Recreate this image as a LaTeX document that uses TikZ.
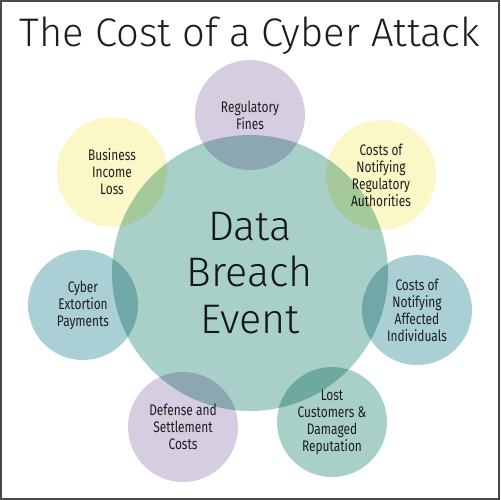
\documentclass[tikz,border=0pt]{standalone}
\usepackage{fontspec}
\setmainfont{Fira Sans}
\newfontfamily\titlefont{Fira Sans Light}
\newfontfamily\labelfont[FakeStretch=0.78]{Fira Sans}
\usepackage{tikz}
\usetikzlibrary{positioning}
\definecolor{lavender}{HTML}{D6CDE1}
\definecolor{butter}{HTML}{FCF7C6}
\definecolor{mist}{HTML}{AACFD4}
\definecolor{sage}{HTML}{A8D0C8}
\definecolor{hubfill}{HTML}{A8D0C9}
\definecolor{ink}{HTML}{1E1E1E}
\definecolor{frame}{HTML}{4A4A4A}

\begin{document}
\begin{tikzpicture}[x=0.02cm, y=-0.02cm,
        every node/.style={font=\labelfont\fontsize{8.7}{9.7}\selectfont,
          text=ink, align=center},
        bubble/.style={circle, minimum size=2.2cm, inner sep=0pt},
        hub/.style={circle, minimum size=5.52cm, inner sep=0pt,
          font=\titlefont\fontsize{23.5}{26.5}\selectfont}]
      \fill[white] (0,0) rectangle (500,500);
      \draw[frame, line width=0.9pt] (0.8,0.8) rectangle (499.2,499.2);
      \node[font=\titlefont\fontsize{22.7}{26}\selectfont] (title) at (250,36)
        {The Cost of a Cyber Attack};
      % outer ring
      \node[bubble, fill=lavender] (fines) at (250,115) {Regulatory\\Fines};
      \node[bubble, fill=butter] (authorities) at (381,175)
        {Costs of\\Notifying\\Regulatory\\Authorities};
      \node[bubble, fill=mist] (affected) at (417,310)
        {Costs of\\Notifying\\Affected\\Individuals};
      \node[bubble, fill=sage] (customers) at (332,422)
        {Lost\\Customers \&\\Damaged\\Reputation};
      \node[bubble, fill=lavender] (defense) at (183,427)
        {Defense and\\Settlement\\Costs};
      \node[bubble, fill=mist] (extortion) at (83,305)
        {Cyber\\Extortion\\Payments};
      \node[bubble, fill=butter] (income) at (112,172)
        {Business\\Income\\Loss};
      % centre
      \begin{scope}[blend mode=multiply]
        \node[hub, fill=hubfill] (breach) at (250,273) {Data\\Breach\\Event};
      \end{scope}
    \end{tikzpicture}
\end{document}
